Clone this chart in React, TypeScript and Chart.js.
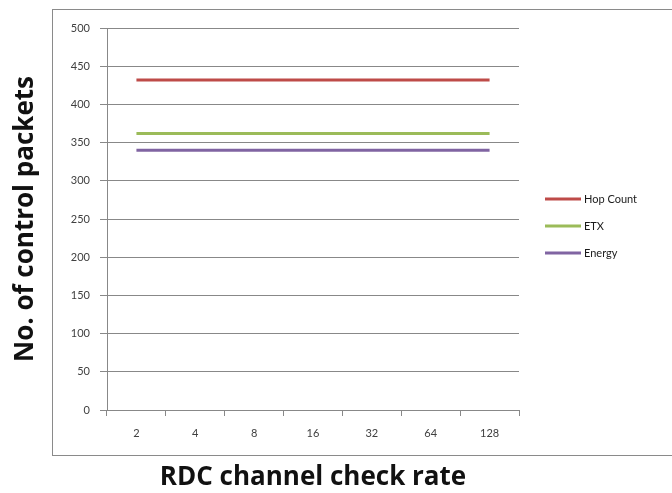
import React, { useEffect, useRef } from "react";
import { Chart, registerables } from "chart.js";

Chart.register(...registerables);

const categories = ["2", "4", "8", "16", "32", "64", "128"];
const hopCount = [432, 432, 432, 432, 432, 432, 432];
const etx = [362, 362, 362, 362, 362, 362, 362];
const energy = [340, 340, 340, 340, 340, 340, 340];
const seriesNames = ["Hop Count", "ETX", "Energy"];
const seriesColors = ["#BE4B48", "#9BBB59", "#8064A2"];

const FONT = "Lato, 'Open Sans', sans-serif";
const TITLE_FONT = "'Open Sans', Lato, sans-serif";

const framePlugin = {
  id: "frame",
  beforeDraw(chart: any) {
    const ctx = chart.ctx;
    ctx.save();
    ctx.strokeStyle = "#8a8a8a";
    ctx.lineWidth = 1;
    ctx.strokeRect(52.5, 9.5, 700, 446);
    ctx.restore();
  },
};

const legendPlugin = {
  id: "customLegend",
  afterDraw(chart: any) {
    const ctx = chart.ctx;
    ctx.save();
    const ys = [199, 226, 253];
    chart.data.datasets.forEach((ds: any, i: number) => {
      const y = ys[i];
      ctx.strokeStyle = ds.borderColor;
      ctx.lineWidth = 3;
      ctx.beginPath();
      ctx.moveTo(545, y);
      ctx.lineTo(581, y);
      ctx.stroke();
      ctx.fillStyle = "#1a1a1a";
      ctx.font = `11px ${FONT}`;
      ctx.textBaseline = "middle";
      ctx.textAlign = "left";
      ctx.fillText(ds.label, 584, y);
    });
    ctx.restore();
  },
};

export default function App() {
  const ref = useRef<HTMLCanvasElement>(null);
  useEffect(() => {
    if (!ref.current) return;
    const data = [hopCount, etx, energy];
    const chart = new Chart(ref.current, {
      type: "line",
      data: {
        labels: categories,
        datasets: data.map((d, i) => ({
          label: seriesNames[i],
          data: d,
          borderColor: seriesColors[i],
          backgroundColor: seriesColors[i],
          borderWidth: 3,
          pointRadius: 0,
          tension: 0,
        })),
      },
      options: {
        animation: false,
        responsive: false,
        maintainAspectRatio: false,
        layout: { padding: { left: 0, right: 153, top: 28, bottom: 0 } },
        plugins: { legend: { display: false }, tooltip: { enabled: false } },
        scales: {
          x: {
            type: "category",
            offset: true,
            grid: {
              offset: true,
              drawOnChartArea: false,
              drawTicks: true,
              tickLength: 6,
              color: "#888",
            },
            border: { color: "#888", width: 1 },
            ticks: { font: { family: FONT, size: 11 }, color: "#404040", padding: 11 },
            title: {
              display: true,
              text: "RDC channel check rate",
              font: { family: TITLE_FONT, size: 26, weight: "bold", lineHeight: 1.2 },
              color: "#111",
              padding: { top: 0, bottom: 0 },
            },
            afterFit(scale: any) {
              scale.height = 83;
            },
          },
          y: {
            min: 0,
            max: 500,
            ticks: { stepSize: 50, font: { family: FONT, size: 11 }, color: "#404040", padding: 10 },
            grid: { color: "#888", tickLength: 7, drawTicks: true },
            border: { color: "#888", width: 1 },
            title: {
              display: true,
              text: "No. of control packets",
              font: { family: TITLE_FONT, size: 26, weight: "bold", lineHeight: 1.2 },
              color: "#111",
              padding: { top: 10, bottom: 0 },
            },
            afterFit(scale: any) {
              scale.width = 107;
            },
          },
        },
      },
      plugins: [framePlugin, legendPlugin],
    });
    return () => chart.destroy();
  }, []);
  return (
    <div style={{ position: "absolute", left: 0, top: 0, width: 672, height: 493, background: "#fff" }}>
      <canvas ref={ref} width={672} height={493} style={{ width: 672, height: 493 }} />
    </div>
  );
}
